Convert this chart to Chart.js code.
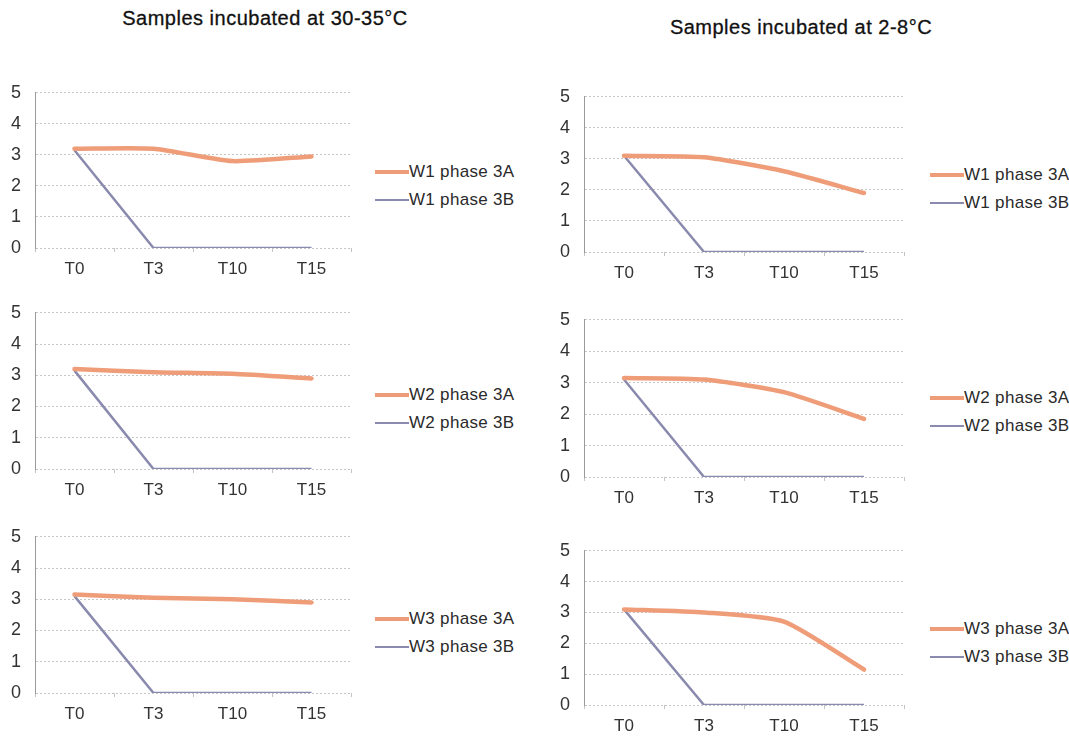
<!DOCTYPE html>
<html>
<head>
<meta charset="utf-8">
<script src="https://cdn.jsdelivr.net/npm/chart.js@4/dist/chart.umd.min.js"></script>
<style>
  html, body { margin: 0; padding: 0; background: #ffffff; }
  body { width: 1069px; height: 738px; position: relative; overflow: hidden; font-family: "Liberation Sans", Arial, sans-serif; }
  .title { position: absolute; font-size: 20px; letter-spacing: 0.5px; color: #111; white-space: nowrap; transform: translate(-50%, -50%); -webkit-text-stroke: 0.3px #111; }
  .panel { position: absolute; }
  .legend { position: absolute; font-size: 17px; letter-spacing: 0.3px; color: #2a2a2a; }
  .legend .row { position: absolute; left: 0; white-space: nowrap; height: 20px; line-height: 20px; transform: translateY(-50%); }
  .legend .swatch { display: inline-block; vertical-align: middle; margin-top: -2px; }
</style>
</head>
<body>
<div class="title" style="left:265px; top:18px;">Samples incubated at 30-35°C</div>
<div class="title" style="left:801px; top:27px;">Samples incubated at 2-8°C</div>

<script>
// ---- data ----
const categories = ['T0', 'T3', 'T10', 'T15'];
const yTicks = [0, 1, 2, 3, 4, 5];

// 30-35 °C
const w1_warm_3A = [3.2, 3.2, 2.8, 2.95];
const w1_warm_3B = [3.15, 0, 0, 0];
const w2_warm_3A = [3.2, 3.1, 3.05, 2.9];
const w2_warm_3B = [3.15, 0, 0, 0];
const w3_warm_3A = [3.15, 3.05, 3.0, 2.9];
const w3_warm_3B = [3.1, 0, 0, 0];

// 2-8 °C
const w1_cold_3A = [3.1, 3.05, 2.6, 1.9];
const w1_cold_3B = [3.1, 0, 0, 0];
const w2_cold_3A = [3.15, 3.1, 2.7, 1.85];
const w2_cold_3B = [3.1, 0, 0, 0];
const w3_cold_3A = [3.1, 3.0, 2.7, 1.15];
const w3_cold_3B = [3.1, 0, 0, 0];

const seriesNamesW1 = ['W1 phase 3A', 'W1 phase 3B'];
const seriesNamesW2 = ['W2 phase 3A', 'W2 phase 3B'];
const seriesNamesW3 = ['W3 phase 3A', 'W3 phase 3B'];

// ---- styles / layout ----
const colorA = '#ef9d78';
const colorB = '#8a8aae';

const panels = [
  { names: seriesNamesW1, a: w1_warm_3A, b: w1_warm_3B, canvasLeft: 0,   axisX: 35,  rightX: 351, y5: 93,  y0: 248, legX: 375, legY: [172, 200] },
  { names: seriesNamesW2, a: w2_warm_3A, b: w2_warm_3B, canvasLeft: 0,   axisX: 35,  rightX: 351, y5: 313, y0: 469, legX: 375, legY: [395, 423] },
  { names: seriesNamesW3, a: w3_warm_3A, b: w3_warm_3B, canvasLeft: 0,   axisX: 35,  rightX: 351, y5: 537, y0: 693, legX: 375, legY: [619, 647] },
  { names: seriesNamesW1, a: w1_cold_3A, b: w1_cold_3B, canvasLeft: 540, axisX: 584, rightX: 904, y5: 97,  y0: 252, legX: 930, legY: [175, 203] },
  { names: seriesNamesW2, a: w2_cold_3A, b: w2_cold_3B, canvasLeft: 540, axisX: 584, rightX: 904, y5: 320, y0: 477, legX: 930, legY: [398, 426] },
  { names: seriesNamesW3, a: w3_cold_3A, b: w3_cold_3B, canvasLeft: 540, axisX: 584, rightX: 904, y5: 551, y0: 705, legX: 930, legY: [629, 657] }
];

const PAD_RIGHT = 4, X_AXIS_H = 32;

panels.forEach((p) => {
  const div = document.createElement('div');
  div.className = 'panel';
  const cW = p.rightX - p.canvasLeft + PAD_RIGHT;
  let cH = (p.y0 - p.y5) + 20 + X_AXIS_H;
  div.style.left = p.canvasLeft + 'px';
  div.style.width = cW + 'px';
  div.style.height = cH + 'px';
  const canvas = document.createElement('canvas');
  canvas.width = cW; canvas.height = cH;
  canvas.style.width = cW + 'px'; canvas.style.height = cH + 'px';
  div.appendChild(canvas);
  document.body.appendChild(div);

  const yAxisW = p.axisX - p.canvasLeft;

  const chart = new Chart(canvas.getContext('2d'), {
    type: 'line',
    data: {
      labels: categories,
      datasets: [
        { label: p.names[0], data: p.a, borderColor: colorA, backgroundColor: colorA, borderWidth: 4.5, pointRadius: 0, tension: 0.2, borderCapStyle: 'round', borderJoinStyle: 'round' },
        { label: p.names[1], data: p.b, borderColor: colorB, backgroundColor: colorB, borderWidth: 2.5, pointRadius: 0, tension: 0, borderJoinStyle: 'round' }
      ]
    },
    options: {
      responsive: false,
      maintainAspectRatio: false,
      animation: false,
      devicePixelRatio: 1,
      layout: { padding: { top: 0, right: PAD_RIGHT, left: 0, bottom: 0 } },
      plugins: { legend: { display: false }, tooltip: { enabled: false }, title: { display: false } },
      scales: {
        x: {
          offset: true,
          grid: { display: true, offset: true, drawOnChartArea: false, drawTicks: true, tickLength: 4, color: '#c4c4c4' },
          border: { display: false },
          ticks: { padding: 7, color: '#333', font: { family: '"Liberation Sans", Arial, sans-serif', size: 17 }, maxRotation: 0 },
          afterFit: (s) => { s.height = X_AXIS_H; }
        },
        y: {
          min: 0, max: 5,
          afterBuildTicks: (s) => { s.ticks = yTicks.map(v => ({ value: v })); },
          grid: { color: '#c6c6c6', lineWidth: 1, drawTicks: false },
          border: { display: true, color: '#9a9a9a', dash: [2, 2], width: 1 },
          ticks: { padding: 14, color: '#333', font: { family: '"Liberation Sans", Arial, sans-serif', size: 18 } },
          afterFit: (s) => { s.width = yAxisW; }
        }
      }
    },
    plugins: [{
      id: 'dashGrid',
      beforeDraw: (c) => { c.scales.y.options.grid.borderDash = [3, 3]; }
    }]
  });

  // align chart area with the target page coordinates
  const topOff = chart.chartArea.top;
  const botOff = cH - chart.chartArea.bottom;
  cH = Math.round(topOff + (p.y0 - p.y5) + botOff);
  div.style.top = Math.round(p.y5 - topOff) + 'px';
  div.style.height = cH + 'px';
  chart.resize(cW, cH);

  // HTML legend
  const leg = document.createElement('div');
  leg.className = 'legend';
  leg.style.left = p.legX + 'px';
  leg.style.top = '0px';
  [0, 1].forEach(i => {
    const row = document.createElement('div');
    row.className = 'row';
    row.style.top = p.legY[i] + 'px';
    const sw = document.createElement('span');
    sw.className = 'swatch';
    sw.style.width = '34px';
    sw.style.height = i === 0 ? '4px' : '2px';
    sw.style.background = i === 0 ? colorA : colorB;
    const tx = document.createElement('span');
    tx.textContent = p.names[i];
    row.appendChild(sw);
    row.appendChild(tx);
    leg.appendChild(row);
  });
  document.body.appendChild(leg);
});
</script>
</body>
</html>
